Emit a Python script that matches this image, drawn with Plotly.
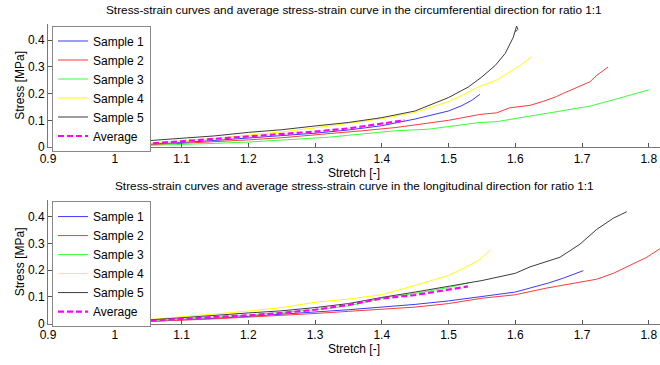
import plotly.graph_objects as go

# ---------- Circumferential direction (top) ----------
c_s1_x = [0.99, 1.05, 1.10, 1.15, 1.20, 1.25, 1.30, 1.35, 1.40, 1.45, 1.50, 1.52, 1.535, 1.547]
c_s1_y = [0.003, 0.010, 0.017, 0.025, 0.034, 0.043, 0.052, 0.064, 0.080, 0.105, 0.135, 0.155, 0.175, 0.197]

c_s2_x = [0.95, 1.00, 1.05, 1.10, 1.15, 1.20, 1.25, 1.32, 1.37, 1.42, 1.50, 1.547, 1.572, 1.592, 1.622,
          1.642, 1.662, 1.672, 1.702, 1.712, 1.722, 1.739]
c_s2_y = [0.0, 0.003, 0.008, 0.014, 0.020, 0.027, 0.035, 0.049, 0.061, 0.073, 0.100, 0.122, 0.128, 0.147, 0.156,
          0.171, 0.189, 0.201, 0.232, 0.244, 0.268, 0.299]

c_s3_x = [0.97, 1.00, 1.05, 1.10, 1.15, 1.20, 1.25, 1.32, 1.37, 1.42, 1.47, 1.547, 1.572, 1.622, 1.677,
          1.712, 1.756, 1.800]
c_s3_y = [0.0, 0.002, 0.006, 0.010, 0.014, 0.019, 0.026, 0.037, 0.049, 0.061, 0.067, 0.092, 0.095, 0.116, 0.138,
          0.153, 0.183, 0.214]

c_s4_x = [0.967, 1.00, 1.05, 1.10, 1.15, 1.20, 1.25, 1.30, 1.35, 1.40, 1.45, 1.50, 1.522, 1.542, 1.572,
          1.592, 1.61, 1.624]
c_s4_y = [0.0, 0.006, 0.014, 0.022, 0.032, 0.045, 0.057, 0.072, 0.090, 0.106, 0.130, 0.170, 0.195, 0.222, 0.250,
          0.281, 0.310, 0.336]

c_s5_x = [0.978, 1.00, 1.05, 1.10, 1.15, 1.20, 1.25, 1.30, 1.35, 1.40, 1.45, 1.50, 1.53, 1.55, 1.57,
          1.585, 1.597, 1.602, 1.604, 1.600]
c_s5_y = [0.005, 0.013, 0.024, 0.032, 0.042, 0.055, 0.065, 0.079, 0.092, 0.110, 0.135, 0.185, 0.225, 0.262,
          0.305, 0.350, 0.410, 0.452, 0.440, 0.430]

c_avg_x = [0.99, 1.05, 1.10, 1.15, 1.20, 1.25, 1.30, 1.35, 1.40, 1.434]
c_avg_y = [0.002, 0.014, 0.022, 0.031, 0.040, 0.049, 0.058, 0.070, 0.087, 0.100]

# ---------- Longitudinal direction (bottom) ----------
l_s1_x = [0.99, 1.05, 1.10, 1.15, 1.20, 1.25, 1.30, 1.35, 1.40, 1.45, 1.50, 1.55, 1.60, 1.622, 1.65, 1.672, 1.702]
l_s1_y = [0.002, 0.008, 0.014, 0.020, 0.027, 0.035, 0.043, 0.052, 0.062, 0.072, 0.085, 0.102, 0.118, 0.133,
          0.152, 0.170, 0.198]

l_s2_x = [0.96, 1.00, 1.05, 1.10, 1.15, 1.20, 1.25, 1.30, 1.35, 1.40, 1.45, 1.50, 1.55, 1.60, 1.647, 1.697,
          1.722, 1.747, 1.772, 1.797, 1.82]
l_s2_y = [0.0, 0.003, 0.008, 0.013, 0.018, 0.024, 0.031, 0.038, 0.046, 0.053, 0.062, 0.075, 0.095, 0.108,
          0.133, 0.155, 0.166, 0.188, 0.218, 0.248, 0.285]

l_s3_x = [0.96, 1.00, 1.05, 1.10, 1.15, 1.20, 1.25, 1.30, 1.35, 1.40, 1.45, 1.50, 1.532]
l_s3_y = [0.0, 0.004, 0.010, 0.017, 0.024, 0.032, 0.042, 0.052, 0.066, 0.095, 0.113, 0.135, 0.154]

l_s4_x = [0.955, 1.00, 1.05, 1.10, 1.15, 1.20, 1.25, 1.30, 1.35, 1.40, 1.45, 1.50, 1.527, 1.547, 1.563]
l_s4_y = [0.0, 0.005, 0.015, 0.025, 0.035, 0.047, 0.060, 0.080, 0.092, 0.108, 0.143, 0.180, 0.212, 0.240, 0.277]

l_s5_x = [0.97, 1.00, 1.05, 1.10, 1.15, 1.20, 1.25, 1.30, 1.35, 1.40, 1.45, 1.50, 1.55, 1.60, 1.622, 1.667,
          1.697, 1.722, 1.747, 1.767]
l_s5_y = [0.0, 0.006, 0.014, 0.022, 0.032, 0.040, 0.048, 0.060, 0.075, 0.098, 0.118, 0.140, 0.161, 0.188,
          0.212, 0.248, 0.297, 0.352, 0.394, 0.418]

l_avg_x = [1.00, 1.05, 1.10, 1.15, 1.20, 1.25, 1.30, 1.35, 1.40, 1.45, 1.477, 1.50, 1.529]
l_avg_y = [0.004, 0.012, 0.018, 0.025, 0.031, 0.040, 0.052, 0.070, 0.094, 0.107, 0.119, 0.127, 0.139]

sample_names = ["Sample 1", "Sample 2", "Sample 3", "Sample 4", "Sample 5"]
avg_name = "Average"
sample_colors = ["#3a3aff", "#ff3a3a", "#3aff3a", "#ffff00", "#3c3c3c"]
avg_color = "#ff00ff"

title_top = "Stress-strain curves and average stress-strain curve in the circumferential direction for ratio 1:1"
title_bottom = "Stress-strain curves and average stress-strain curve in the longitudinal direction for ratio 1:1"
x_tick_vals = [0.9, 1.0, 1.1, 1.2, 1.3, 1.4, 1.5, 1.6, 1.7, 1.8]
x_tick_text = ["0.9", "1", "1.1", "1.2", "1.3", "1.4", "1.5", "1.6", "1.7", "1.8"]
y_tick_vals = [0, 0.1, 0.2, 0.3, 0.4]
y_tick_text = ["0", "0.1", "0.2", "0.3", "0.4"]

FONT = "Liberation Sans, Arial, Helvetica, sans-serif"

fig = go.Figure()

top_sets = [(c_s1_x, c_s1_y), (c_s2_x, c_s2_y), (c_s3_x, c_s3_y), (c_s4_x, c_s4_y), (c_s5_x, c_s5_y)]
bot_sets = [(l_s1_x, l_s1_y), (l_s2_x, l_s2_y), (l_s3_x, l_s3_y), (l_s4_x, l_s4_y), (l_s5_x, l_s5_y)]

for (xs, ys), name, col in zip(top_sets, sample_names, sample_colors):
    fig.add_trace(go.Scatter(x=xs, y=ys, mode="lines", name=name, line=dict(color=col, width=1),
                             xaxis="x", yaxis="y", legend="legend"))
fig.add_trace(go.Scatter(x=c_avg_x, y=c_avg_y, mode="lines", name=avg_name,
                         line=dict(color=avg_color, width=2.2, dash="6px,3px"),
                         xaxis="x", yaxis="y", legend="legend"))

for (xs, ys), name, col in zip(bot_sets, sample_names, sample_colors):
    fig.add_trace(go.Scatter(x=xs, y=ys, mode="lines", name=name, line=dict(color=col, width=1),
                             xaxis="x2", yaxis="y2", legend="legend2"))
fig.add_trace(go.Scatter(x=l_avg_x, y=l_avg_y, mode="lines", name=avg_name,
                         line=dict(color=avg_color, width=2.2, dash="6px,3px"),
                         xaxis="x2", yaxis="y2", legend="legend2"))

W, H = 660, 365
ML = 48


def py_to_paper(py):
    return (H - py) / H


xcommon = dict(range=[0.9, 0.9 + (W - ML) / 667.5], tickmode="array", tickvals=x_tick_vals,
               ticktext=x_tick_text, ticks="inside", ticklen=4, tickcolor="#555555",
               showline=True, linecolor="#777777", linewidth=1, showgrid=False, zeroline=False,
               tickfont=dict(size=12, color="black", family=FONT),
               title=dict(text="Stretch [-]", font=dict(size=12, color="black", family=FONT), standoff=3))
ycommon = dict(range=[0, 0.4615], tickmode="array", tickvals=y_tick_vals, ticktext=y_tick_text,
               ticks="inside", ticklen=4, tickcolor="#555555", showline=True, linecolor="#777777",
               linewidth=1, showgrid=False, zeroline=False,
               tickfont=dict(size=12, color="black", family=FONT),
               title=dict(text="Stress [MPa]", font=dict(size=12, color="black", family=FONT), standoff=0))

legcommon = dict(bgcolor="white", bordercolor="#888888", borderwidth=1,
                 font=dict(size=12, color="black", family=FONT), xanchor="left", yanchor="top",
                 x=(52 - ML) / (W - ML), tracegroupgap=0, itemwidth=30)

fig.update_layout(
    width=W, height=H,
    margin=dict(l=ML, r=0, t=0, b=0),
    paper_bgcolor="white", plot_bgcolor="white",
    showlegend=True,
    hovermode=False,
    xaxis=dict(domain=[0, 1], anchor="y", **xcommon),
    yaxis=dict(domain=[py_to_paper(150), py_to_paper(24)], anchor="x", **ycommon),
    xaxis2=dict(domain=[0, 1], anchor="y2", **xcommon),
    yaxis2=dict(domain=[py_to_paper(330), py_to_paper(204)], anchor="x2", **ycommon),
    legend=dict(y=py_to_paper(26), **legcommon),
    legend2=dict(y=py_to_paper(205), **legcommon),
    annotations=[
        dict(text=title_top, xref="paper", yref="paper", x=0.5, y=py_to_paper(10), xanchor="center",
             yanchor="middle", showarrow=False, font=dict(size=11.8, color="black", family=FONT)),
        dict(text=title_bottom, xref="paper", yref="paper", x=0.5, y=py_to_paper(190), xanchor="center",
             yanchor="middle", showarrow=False, font=dict(size=11.8, color="black", family=FONT)),
    ],
)

fig.write_html("out.html",
               config={"displayModeBar": False, "staticPlot": True},
               post_script="document.body.style.margin='0';document.body.style.overflow='hidden';")
